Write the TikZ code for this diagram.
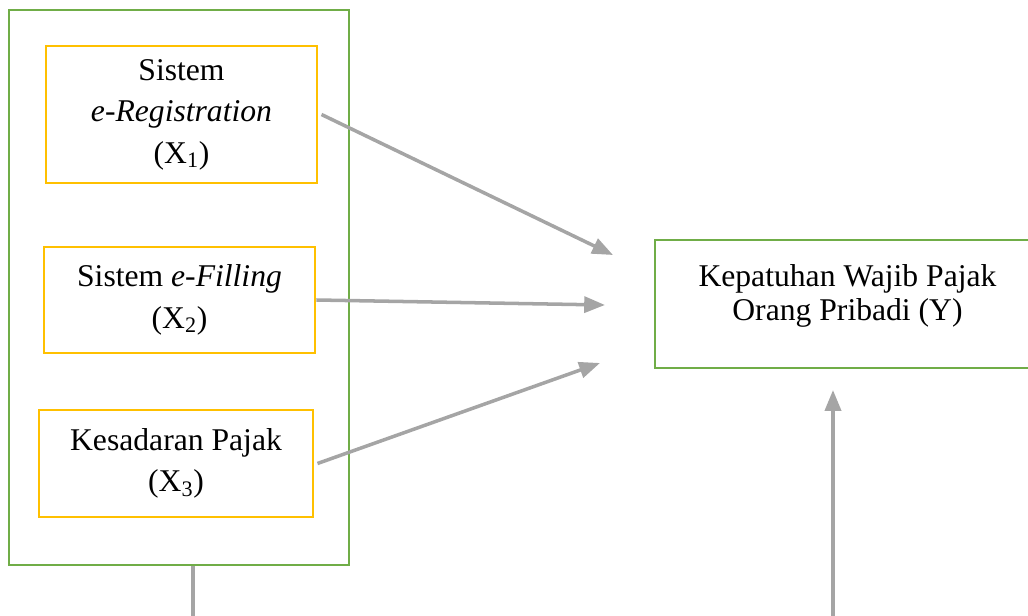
\documentclass[tikz,border=0pt]{standalone}
\usepackage{fontspec}
\setmainfont{Liberation Serif}
\usetikzlibrary{arrows.meta, positioning}

\definecolor{grn}{HTML}{70AD47}
\definecolor{ylw}{HTML}{FFC000}
\definecolor{lnk}{HTML}{A5A5A5}

\begin{document}
\begin{tikzpicture}[
        x=0.025cm, y=-0.025cm,
        >={Triangle[length=0.52cm, width=0.4cm]},
        group/.style={rectangle, draw=grn, line width=1.8pt, minimum width=8.5cm, minimum height=13.875cm},
        factor/.style={rectangle, draw=ylw, line width=1.8pt, align=center, font=\fontsize{22.5}{29.5}\selectfont},
        result/.style={rectangle, draw=grn, line width=1.8pt, inner sep=0pt, font=\fontsize{22.5}{24}\selectfont},
        link/.style={draw=lnk, line width=2.5pt}
    ]

    \clip (0,0) rectangle (1028,616);

    \node (frame) [group] at (179,287.5) {};
    \node (regis) [factor, minimum width=6.775cm, minimum height=3.425cm] at (181.5,114.5) {Sistem\\\textit{e-Registration}\\(X\textsubscript{1})};
    \node (filing) [factor, minimum width=6.775cm, minimum height=2.65cm] at (179.5,300) {Sistem \textit{e-Filling}\\(X\textsubscript{2})};
    \node (aware) [factor, minimum width=6.85cm, minimum height=2.675cm] at (176,463.5) {Kesadaran Pajak\\(X\textsubscript{3})};
    \node (comply) [result] at (847.5,304) {\parbox[t][3.2cm][t]{9.625cm}{\centering\vspace*{0.62cm}Kepatuhan Wajib Pajak\\Orang Pribadi (Y)}};

    \coordinate (t1) at (613,255);
    \coordinate (t2) at (605,305);
    \coordinate (t3) at (600,363);
    \coordinate (t4) at (833,390);
    \coordinate (b1) at (193,625);
    \coordinate (b2) at (833,625);

    \draw [link, ->] ([xshift=0.08cm]regis.east) -- (t1);
    \draw [link, ->] (filing.east) -- (t2);
    \draw [link, ->] ([xshift=0.08cm]aware.east) -- (t3);
    \draw [link] (frame.south -| b1) -- (b1);
    \draw [link, ->] (b2) -- (t4);

\end{tikzpicture}
\end{document}
